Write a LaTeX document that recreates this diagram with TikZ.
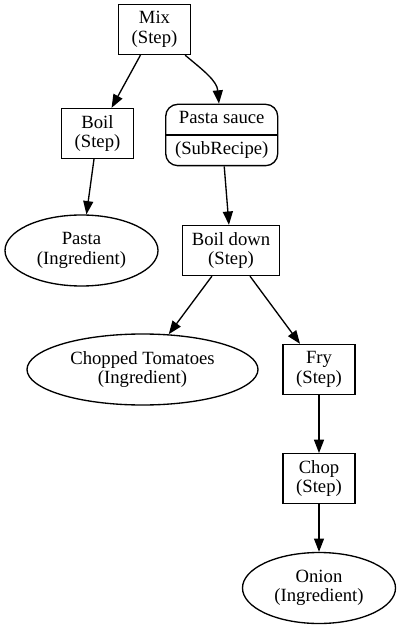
\documentclass[tikz,border=0pt]{standalone}
\usepackage{fontspec}
\setmainfont{Liberation Serif}
\usetikzlibrary{arrows.meta,shapes.geometric}
\tikzset{
	stepbox/.style={draw, rectangle, minimum width=54pt, minimum height=37.5pt, inner xsep=7pt, align=center},
	ingredient/.style={draw, ellipse, minimum width=114.75pt, minimum height=53.25pt, inner sep=2pt, align=center},
	subrecipe/.style={draw, rectangle, rounded corners=9pt, minimum width=84pt, minimum height=46pt, align=center}
}

\begin{document}
\begin{tikzpicture}[x=0.75pt,y=-0.75pt,line width=1pt,font=\fontsize{14}{14.6}\selectfont]
	\useasboundingbox (0,0) rectangle (401,630);
	\node[stepbox] (mix) at (154.5,29.5) {Mix\\(Step)};
	\node[stepbox] (boil) at (97.5,133.5) {Boil\\(Step)};
	\node[subrecipe] (sauce) at (221.7,135) {Pasta sauce\\[8.65pt](SubRecipe)};
	\node[ingredient] (pasta) at (81.5,250.5) {Pasta\\(Ingredient)};
	\node[stepbox] (boildown) at (231,250.5) {Boil down\\(Step)};
	\node[ingredient,minimum width=173.25pt] (tomatoes) at (142.5,369.5) {Chopped Tomatoes\\(Ingredient)};
	\node[stepbox] (fry) at (319,369.5) {Fry\\(Step)};
	\node[stepbox] (chop) at (319,478.7) {Chop\\(Step)};
	\node[ingredient] (onion) at (319,588) {Onion\\(Ingredient)};
	\draw (sauce.west) -- (sauce.east);
	%\draw[->] (mix) -- (sauce);
	\path[-{Triangle[length=10pt,width=7.5pt]}]
	(mix) edge (boil)
	(mix) edge[out=-40,in=95] (sauce)
	(boil) edge (pasta)
	(sauce) edge (boildown)
	(boildown) edge (tomatoes)
	(boildown) edge (fry)
	(fry) edge (chop)
	(chop) edge (onion);
\end{tikzpicture}
\end{document}
